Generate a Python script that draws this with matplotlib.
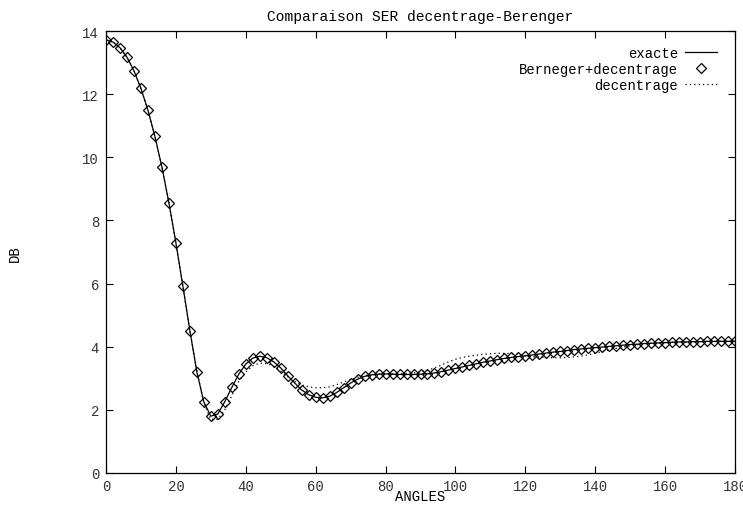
import matplotlib
matplotlib.use("Agg")
import matplotlib.pyplot as plt
import numpy as np

plt.rcParams['font.family'] = ['Liberation Mono', 'DejaVu Sans Mono']

angles = list(range(0, 181, 2))

berenger = [13.72, 13.65, 13.47, 13.17, 12.74, 12.18, 11.49, 10.66, 9.69, 8.56,
            7.29, 5.92, 4.51, 3.20, 2.25, 1.80, 1.87, 2.26, 2.71, 3.13,
            3.45, 3.64, 3.70, 3.65, 3.52, 3.33, 3.08, 2.85, 2.63, 2.48,
            2.40, 2.38, 2.43, 2.55, 2.70, 2.85, 2.97, 3.06, 3.11, 3.13,
            3.14, 3.13, 3.12, 3.12, 3.12, 3.13, 3.14, 3.17, 3.21, 3.26,
            3.31, 3.36, 3.41, 3.46, 3.51, 3.55, 3.59, 3.63, 3.66, 3.69,
            3.71, 3.74, 3.77, 3.80, 3.83, 3.85, 3.88, 3.91, 3.93, 3.95,
            3.97, 3.99, 4.01, 4.03, 4.05, 4.07, 4.08, 4.10, 4.11, 4.12,
            4.13, 4.14, 4.15, 4.15, 4.16, 4.16, 4.17, 4.17, 4.17, 4.17,
            4.17]

exacte = list(berenger)

decentrage = [13.72, 13.65, 13.47, 13.17, 12.74, 12.18, 11.49, 10.66, 9.69, 8.56,
              7.29, 5.92, 4.51, 3.25, 2.20, 1.70, 1.70, 2.00, 2.45, 2.90,
              3.20, 3.40, 3.48, 3.47, 3.38, 3.23, 3.05, 2.90, 2.79, 2.73,
              2.70, 2.70, 2.73, 2.80, 2.88, 2.96, 3.03, 3.08, 3.11, 3.13,
              3.14, 3.14, 3.14, 3.15, 3.17, 3.20, 3.25, 3.33, 3.42, 3.52,
              3.60, 3.66, 3.70, 3.73, 3.76, 3.78, 3.79, 3.79, 3.78, 3.75,
              3.72, 3.69, 3.67, 3.66, 3.65, 3.65, 3.66, 3.68, 3.70, 3.74,
              3.79, 3.85, 3.90, 3.95, 3.99, 4.03, 4.06, 4.09, 4.11, 4.12,
              4.13, 4.14, 4.15, 4.15, 4.16, 4.16, 4.17, 4.17, 4.17, 4.17,
              4.17]

title = "Comparaison SER decentrage-Berenger"
xlabel = "ANGLES"
ylabel = "DB"
labels = ["exacte", "Berneger+decentrage", "decentrage"]
xticks = list(range(0, 181, 20))
yticks = list(range(0, 15, 2))

W, H = 743, 506
fig = plt.figure(figsize=(W / 100, H / 100), dpi=100)
L, R, T, B = 106, 735, 32, 474
ax = fig.add_axes([L / W, 1 - B / H, (R - L) / W, (B - T) / H])

ax.plot(angles, exacte, color='black', lw=0.9, label=labels[0])
ax.plot(angles, berenger, linestyle='none', marker='D', markersize=4.7,
        markerfacecolor='none', markeredgecolor='black', markeredgewidth=0.9,
        label=labels[1], zorder=3)
ax.plot(angles, decentrage, color='black', lw=0.9, linestyle=(0, (1, 2.5)),
        label=labels[2])

ax.set_xlim(0, 180)
ax.set_ylim(0, 14)
ax.set_xticks(xticks)
ax.set_yticks(yticks)
ax.tick_params(direction='in', length=5, width=0.8, top=True, right=True,
               labelsize=10, colors='black', labelcolor='#333333')
ax.tick_params(axis='x', pad=4)
ax.tick_params(axis='y', pad=5)
for s in ax.spines.values():
    s.set_linewidth(0.9)

ax.set_title(title, fontsize=10.5, pad=8)
ax.set_xlabel(xlabel, fontsize=10, labelpad=-2.5)
fig.text(15 / W, 1 - 254 / H, ylabel, rotation=90, ha='center', va='center',
         fontsize=10)

leg = ax.legend(loc='upper right', bbox_to_anchor=((717 - L) / (R - L), (B - 47) / (B - T)),
                frameon=False, markerfirst=False, borderpad=0, borderaxespad=0,
                handlelength=2.3, handletextpad=0.5, labelspacing=0.15, fontsize=10)
for col in leg._legend_handle_box.get_children():
    col.align = "right"

fig.savefig("out.png", dpi=100)
